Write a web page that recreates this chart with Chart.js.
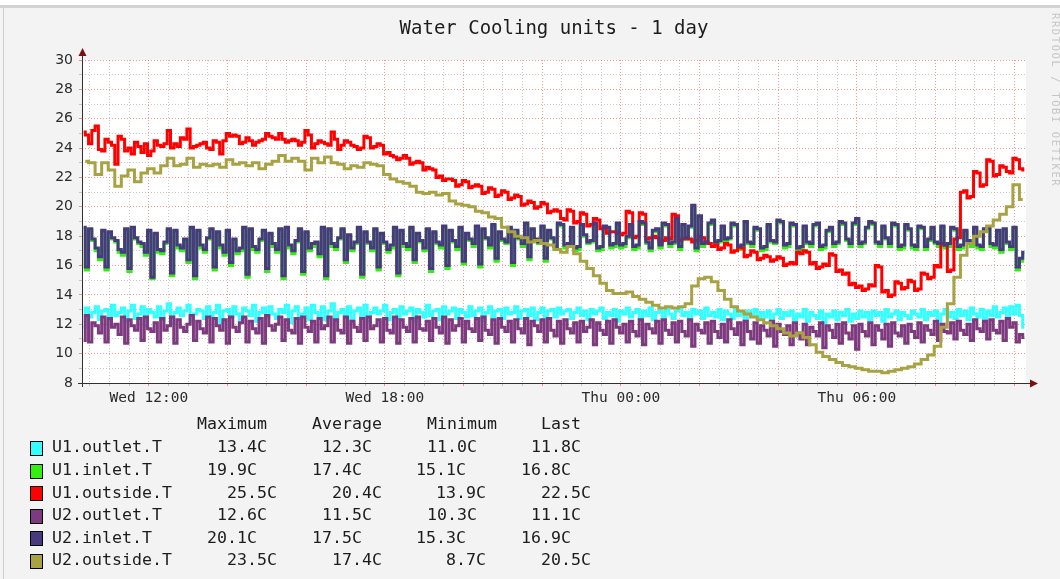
<!DOCTYPE html>
<html><head><meta charset="utf-8">
<script src="https://cdn.jsdelivr.net/npm/chart.js"></script>
<style>html,body{margin:0;padding:0;background:#f3f3f3;overflow:hidden}canvas{display:block}</style>
</head><body>
<canvas id="c" width="1060" height="579"></canvas>
<script>
const chartTitle = 'Water Cooling units - 1 day';
const watermark = 'RRDTOOL / TOBI OETIKER';
const seriesNames = ['U1.outlet.T','U1.inlet.T','U1.outside.T','U2.outlet.T','U2.inlet.T','U2.outside.T'];
const seriesColors = ['#33ffff','#33ee11','#ff0000','#7e3a7e','#473a7f','#a9a243'];
const statHeaders = ['Maximum','Average','Minimum','Last'];
const statMax  = ['13.4C','19.9C','25.5C','12.6C','20.1C','23.5C'];
const statAvg  = ['12.3C','17.4C','20.4C','11.5C','17.5C','17.4C'];
const statMin  = ['11.0C','15.1C','13.9C','10.3C','15.3C','8.7C'];
const statLast = ['11.8C','16.8C','22.5C','11.1C','16.9C','20.5C'];
const xTickHours  = [12, 18, 24, 30];
const xTickLabels = ['Wed 12:00','Wed 18:00','Thu 00:00','Thu 06:00'];
const yTickValues = [8,10,12,14,16,18,20,22,24,26,28,30];
const yTickLabels = ['8','10','12','14','16','18','20','22','24','26','28','30'];
const startHour = 10.3, endHour = 34.3;   // Wed 10:18 .. Thu 10:18

// 5-minute samples (288 per day)
const u1Outlet = [
11.8,13.1,12.5,12.8,13.2,12.3,12.9,13.0,12.2,13.3,12.6,12.8,
13.1,12.2,12.9,13.3,12.4,12.7,13.2,11.9,13.0,12.8,12.5,13.2,
12.3,12.9,13.4,12.1,12.8,13.1,12.6,12.9,13.3,12.2,12.7,13.0,
12.9,12.4,13.2,12.6,12.8,13.3,12.1,12.9,13.0,12.5,13.2,12.7,
12.3,13.1,12.9,12.6,13.3,12.2,12.8,13.1,12.5,13.2,12.7,12.4,
13.0,12.8,13.3,12.1,12.9,13.2,12.4,12.7,13.1,12.3,13.3,12.8,
12.6,13.2,12.3,12.9,13.4,12.2,12.8,13.0,12.6,13.2,12.4,12.9,
13.1,12.5,13.3,12.2,12.8,13.1,12.7,12.9,13.3,12.3,12.8,13.0,
12.4,13.2,12.7,12.9,13.1,12.2,13.0,12.8,12.5,13.3,12.6,12.9,
13.0,12.3,13.2,12.7,12.9,13.1,12.4,13.0,12.8,12.5,13.2,12.6,
12.9,13.1,12.3,12.8,13.2,12.5,12.9,13.0,12.4,13.1,12.7,12.8,
13.2,12.4,12.9,13.0,12.6,13.1,12.3,12.8,13.1,12.5,12.9,13.0,
12.5,13.1,12.7,12.9,13.0,12.4,12.8,13.1,12.6,12.9,12.3,13.0,
12.7,12.9,13.1,12.4,12.8,12.6,13.0,12.2,12.9,12.7,13.1,12.5,
12.8,13.0,12.4,12.9,12.6,13.1,12.3,12.8,12.9,12.5,13.0,12.7,
12.4,12.9,13.1,12.6,12.8,12.3,13.0,12.7,12.9,12.4,13.1,12.6,
12.8,12.5,13.0,12.3,12.9,12.7,12.4,13.0,12.6,12.8,12.2,12.9,
12.6,13.0,12.4,12.8,12.5,12.9,12.2,12.7,13.0,12.4,12.8,12.6,
12.9,12.3,12.7,12.5,13.0,12.2,12.8,12.6,12.4,12.9,12.1,12.7,
12.5,12.9,12.3,12.8,12.6,13.0,12.2,12.7,12.4,12.9,12.5,12.8,
12.3,12.9,12.6,12.8,12.2,13.0,12.5,12.7,12.9,12.3,12.8,12.6,
12.4,12.9,12.7,12.5,13.0,12.3,12.8,12.6,12.9,12.2,12.7,13.0,
12.5,12.8,12.4,13.0,12.6,12.9,12.3,13.1,12.7,12.5,13.0,12.4,
12.9,12.6,13.2,12.5,12.8,13.1,12.4,13.2,12.7,13.3,12.6,11.8];

const u1Inlet = [
18.5,15.7,18.4,17.7,17.0,16.4,18.3,15.7,18.2,17.8,17.6,16.9,
16.7,18.4,15.6,18.5,17.8,17.5,17.3,16.7,18.3,15.1,18.1,16.9,
16.8,17.5,18.4,15.3,18.3,17.2,17.0,17.7,16.2,18.5,15.1,18.3,
17.2,16.9,17.8,18.4,15.7,18.2,17.2,16.7,18.3,16.0,17.7,16.8,
17.0,18.5,15.2,18.4,17.1,16.9,17.7,18.3,15.6,18.1,17.3,16.9,
18.4,15.1,18.5,17.2,16.8,17.6,18.4,15.4,18.2,17.0,17.3,17.5,
16.6,18.5,15.1,18.4,17.3,17.1,17.8,18.4,16.2,18.0,17.0,17.5,
18.5,15.2,18.2,17.5,17.0,18.4,15.7,18.1,17.5,16.9,17.2,18.5,
15.3,18.3,17.3,17.1,18.5,16.2,18.1,17.6,17.0,18.4,15.6,18.2,
17.5,17.2,18.6,15.8,18.3,17.6,17.1,18.5,16.1,18.1,17.7,17.3,
18.6,15.9,18.4,17.8,17.2,18.7,16.3,18.2,17.7,17.5,18.5,16.0,
18.3,17.8,17.3,18.8,16.4,18.4,17.7,17.5,18.6,16.3,18.3,17.8,
17.1,18.8,18.7,17.2,17.3,18.5,17.0,17.1,18.7,18.0,17.5,17.6,
18.8,17.0,17.1,18.6,18.5,17.2,17.3,18.8,17.2,17.3,17.9,18.7,
17.1,17.2,18.9,18.8,17.5,17.0,18.3,18.4,17.2,18.8,18.7,17.3,
17.5,19.1,17.1,18.7,17.8,18.6,19.9,17.0,19.3,17.3,17.5,18.8,
19.0,17.5,17.6,18.6,17.7,17.8,18.8,18.7,17.1,17.2,18.9,17.5,
17.3,18.5,18.4,17.0,17.1,18.7,17.6,17.5,19.0,18.9,17.2,17.3,
18.8,18.7,17.0,17.1,18.6,17.5,17.3,18.7,18.8,17.1,17.2,18.3,
18.5,17.3,17.5,18.9,18.8,17.7,17.3,18.8,19.1,17.3,17.5,18.5,
18.9,18.8,17.5,17.3,18.6,17.8,17.3,18.8,18.7,17.1,17.2,18.7,
18.4,17.2,17.1,18.6,18.5,17.1,17.7,18.5,17.5,17.3,18.6,17.2,
17.3,18.5,18.4,17.1,17.2,18.3,17.6,17.3,18.5,17.2,17.1,18.4,
18.5,17.3,17.2,18.3,16.9,18.4,17.5,17.1,18.5,15.7,16.3,16.8];

const u1Outside = [
25.1,24.9,24.3,25.2,25.5,23.9,23.8,24.6,24.4,24.2,22.9,24.8,
24.6,23.8,24.0,23.6,24.4,24.1,23.7,24.3,23.5,23.8,24.5,24.2,
24.1,24.3,25.2,24.0,24.3,24.1,24.7,24.6,25.3,24.0,24.1,24.2,
24.3,24.4,24.0,23.9,24.5,24.4,23.6,24.5,25.0,24.8,24.9,24.8,
24.3,24.4,24.7,24.5,24.2,24.4,24.5,24.6,25.0,24.8,24.7,24.6,
25.0,24.6,24.4,24.5,24.6,24.5,24.2,24.4,25.2,24.9,24.0,24.3,
24.5,24.4,24.3,24.2,25.1,24.6,23.9,24.2,24.5,24.4,24.2,24.1,
23.9,24.0,24.8,24.7,24.0,24.1,24.3,24.2,23.6,23.7,23.5,23.4,
23.2,23.3,23.5,23.3,22.9,23.0,23.1,23.0,22.5,22.7,22.6,22.5,
22.0,22.1,21.8,21.9,21.9,21.8,21.4,21.5,21.8,21.7,21.3,21.4,
21.5,21.4,20.9,21.0,21.3,21.2,20.7,20.8,21.1,21.0,20.5,20.6,
20.8,20.7,20.1,20.2,20.4,20.3,19.9,20.0,20.3,20.2,19.6,19.7,
19.8,19.7,19.2,19.1,19.8,19.7,18.9,19.0,19.6,19.5,18.7,18.8,
19.2,19.1,18.5,18.6,18.2,18.3,18.3,18.2,18.1,18.2,19.7,19.6,
17.9,18.0,19.6,19.5,17.8,17.9,18.0,17.9,17.6,17.7,17.9,17.8,
19.5,19.4,17.7,17.8,17.9,17.8,17.6,17.7,18.0,17.9,17.6,17.5,
17.3,17.4,17.1,17.2,17.5,17.4,16.9,17.0,17.3,17.2,16.6,16.7,
17.0,16.9,16.4,16.5,16.7,16.6,16.3,16.4,16.6,16.5,16.0,16.1,
16.2,16.1,16.9,16.8,17.0,16.9,16.1,16.2,15.8,15.9,16.1,16.0,
16.8,16.7,15.6,15.7,15.4,15.5,14.7,14.8,14.5,14.6,14.3,14.4,
14.7,14.6,16.0,15.9,14.2,14.3,13.9,14.0,14.9,14.8,14.4,14.5,
15.0,14.9,14.3,14.4,15.5,15.4,15.1,15.2,16.0,15.9,17.5,17.4,
15.6,15.7,17.8,17.9,21.0,21.1,20.6,20.7,22.4,22.3,21.4,21.5,
23.2,23.1,22.1,22.2,22.8,22.7,22.4,22.3,23.3,23.2,22.6,22.5];

const u2Outlet = [
10.9,12.6,10.8,12.1,11.9,11.4,12.5,10.8,12.4,11.8,12.0,11.3,
12.5,10.7,12.3,11.9,11.6,12.4,10.9,12.5,11.7,11.5,12.1,10.8,
12.4,11.6,11.9,12.5,10.7,12.3,11.8,11.5,12.0,12.6,10.9,12.2,
11.7,11.4,12.5,10.8,12.4,11.9,11.6,12.3,10.7,12.5,11.8,11.5,
12.1,12.5,10.8,12.2,11.7,11.4,12.4,10.7,12.6,11.9,11.6,12.0,
12.5,10.9,12.3,11.6,11.4,12.4,10.7,12.5,11.8,11.5,12.2,10.8,
12.4,11.7,11.9,12.5,10.8,12.3,11.6,11.4,12.5,10.7,12.2,11.8,
11.5,12.4,10.9,12.5,11.7,11.9,12.3,10.8,12.4,11.6,11.4,12.5,
10.7,12.3,11.8,11.5,12.4,10.8,12.5,11.7,11.6,12.2,10.9,12.4,
11.8,11.4,12.5,10.7,12.3,11.6,11.9,12.4,10.8,12.2,11.7,11.5,
12.4,10.9,12.5,11.6,11.3,12.3,10.7,12.4,11.8,11.5,12.2,10.8,
12.3,11.7,11.4,12.4,10.6,12.2,11.9,11.5,12.3,10.8,12.4,11.6,
11.2,12.2,10.7,12.3,11.7,11.4,12.1,10.8,12.2,11.5,11.8,12.3,
10.6,12.1,11.6,11.3,12.2,10.7,12.3,11.8,11.4,12.0,10.8,12.2,
11.5,11.2,12.3,10.6,12.0,11.7,11.4,12.2,10.7,12.3,11.6,11.3,
12.1,10.8,12.2,11.5,11.2,12.3,10.5,12.0,11.6,11.4,12.1,10.7,
12.2,11.5,11.1,12.0,10.8,12.3,11.7,11.3,12.1,10.6,12.2,11.5,
11.0,12.1,10.7,11.9,11.6,11.2,12.2,10.5,12.0,11.5,11.3,11.9,
10.6,12.1,11.4,11.0,12.0,10.6,11.8,11.5,11.2,12.1,10.4,11.9,
11.6,11.1,12.0,10.7,12.1,11.4,11.0,11.9,10.3,12.0,11.5,11.2,
12.1,10.6,11.9,11.6,11.0,12.0,10.5,12.1,11.4,11.2,11.9,10.7,
12.0,11.5,11.1,12.1,10.8,11.9,11.6,11.3,12.2,10.9,12.0,11.5,
11.4,12.1,11.0,12.2,11.6,11.3,12.0,10.9,12.3,11.7,11.5,12.2,
11.0,12.3,11.6,11.4,12.2,10.9,12.4,11.8,12.1,10.8,11.3,11.1];

const u2Inlet = [
18.6,15.9,18.5,17.8,17.2,16.6,18.4,15.9,18.3,17.9,17.7,17.1,
16.9,18.5,15.8,18.6,17.9,17.6,17.5,16.9,18.4,15.2,18.2,17.1,
17.0,17.6,18.5,15.5,18.4,17.4,17.2,17.8,16.4,18.6,15.3,18.4,
17.4,17.1,17.9,18.5,15.9,18.3,17.4,16.9,18.4,16.2,17.8,17.0,
17.2,18.6,15.4,18.5,17.3,17.1,17.8,18.4,15.8,18.2,17.5,17.1,
18.5,15.3,18.6,17.4,17.0,17.7,18.5,15.6,18.3,17.2,17.5,17.6,
16.8,18.6,15.3,18.5,17.5,17.3,17.9,18.5,16.4,18.1,17.2,17.6,
18.6,15.4,18.3,17.6,17.2,18.5,15.9,18.2,17.6,17.1,17.4,18.6,
15.5,18.4,17.5,17.3,18.6,16.4,18.2,17.7,17.2,18.5,15.8,18.3,
17.6,17.4,18.7,16.0,18.4,17.7,17.3,18.6,16.3,18.2,17.8,17.5,
18.7,16.1,18.5,17.9,17.4,18.8,16.5,18.3,17.8,17.6,18.6,16.2,
18.4,17.9,17.5,18.9,16.6,18.5,17.8,17.6,18.7,16.5,18.4,17.9,
17.3,18.9,18.8,17.4,17.5,18.6,17.2,17.3,18.8,18.1,17.6,17.7,
18.9,17.2,17.3,18.7,18.6,17.4,17.5,18.9,17.4,17.5,18.0,18.8,
17.3,17.4,19.0,18.9,17.6,17.2,18.4,18.5,17.4,18.9,18.8,17.5,
17.6,19.2,17.3,18.8,17.9,18.7,20.1,17.2,19.4,17.5,17.6,18.9,
19.1,17.6,17.7,18.7,17.8,17.9,18.9,18.8,17.3,17.4,19.0,17.6,
17.5,18.6,18.5,17.2,17.3,18.8,17.7,17.6,19.1,19.0,17.4,17.5,
18.9,18.8,17.2,17.3,18.7,17.6,17.5,18.8,18.9,17.3,17.4,18.4,
18.6,17.5,17.6,19.0,18.9,17.8,17.5,18.9,19.2,17.5,17.6,18.6,
19.0,18.9,17.6,17.5,18.7,17.9,17.5,18.9,18.8,17.3,17.4,18.8,
18.5,17.4,17.3,18.7,18.6,17.3,17.8,18.6,17.6,17.5,18.7,17.4,
17.5,18.6,18.5,17.3,17.4,18.4,17.7,17.5,18.6,17.4,17.3,18.5,
18.6,17.5,17.4,18.4,17.1,18.5,17.6,17.3,18.6,15.9,16.5,16.9];

// 10-minute samples (144 per day)
const u2Outside = [23.1,23.0,22.2,23.0,22.5,21.4,22.1,22.5,21.7,22.3,22.6,22.3,22.8,23.3,22.8,22.9,23.3,22.7,22.9,22.8,22.9,22.7,23.2,22.9,23.0,22.8,23.0,22.6,22.9,23.1,23.5,23.1,23.3,23.1,22.5,23.3,23.0,
23.4,23.0,22.9,22.6,22.8,22.7,23.0,22.9,22.8,22.2,21.9,21.7,21.6,21.4,21.0,20.9,21.0,20.8,20.9,20.4,20.2,20.1,20.0,19.7,19.6,19.3,19.2,18.6,18.3,18.0,17.9,17.6,17.7,17.5,17.4,17.1,
16.9,17.3,16.8,16.3,15.8,15.3,14.8,14.3,14.1,14.1,14.2,13.9,13.7,13.5,13.3,13.1,13.2,13.1,13.2,13.4,14.6,15.1,15.2,14.9,14.3,13.7,13.2,12.9,12.7,12.5,12.3,12.1,11.9,11.7,11.4,11.2,
11.4,11.1,10.6,10.1,9.8,9.6,9.4,9.2,9.1,9.0,8.9,8.8,8.8,8.7,8.8,8.9,9.0,9.1,9.3,9.6,9.9,10.5,11.8,13.4,15.2,16.7,17.5,18.0,18.3,18.7,19.1,19.5,20.0,21.5,20.5];

const seriesValues = [u1Outlet, u1Inlet, u1Outside, u2Outlet, u2Inlet, u2Outside];

const MAJOR = 'rgba(240,60,60,0.55)';
const MINOR = 'rgba(150,150,150,0.5)';
const MONO = "'DejaVu Sans Mono', monospace";

const xGridHours = [];
for (let h = 10.5; h <= 34.0001; h += 0.5) xGridHours.push(h);
const yGridValues = [];
for (let v = 8; v <= 30; v++) yGridValues.push(v);

const rrdDecor = {
  id: 'rrdDecor',
  beforeDraw(chart) {
    const {ctx, chartArea: a, width, height} = chart;
    ctx.save();
    ctx.fillStyle = '#f3f3f3'; ctx.fillRect(0, 0, width, height);
    ctx.fillStyle = '#ffffff'; ctx.fillRect(0, 0, width, 5);
    ctx.fillStyle = '#d3d3d3'; ctx.fillRect(0, 5, width, 3);
    ctx.fillStyle = '#cfcfcf'; ctx.fillRect(3, 8, 1, height - 8);
    ctx.fillStyle = '#ffffff'; ctx.fillRect(a.left, a.top, a.right - a.left, a.bottom - a.top);
    ctx.restore();
  },
  afterDraw(chart) {
    const {ctx, chartArea: a} = chart;
    ctx.save();
    ctx.strokeStyle = '#303030'; ctx.lineWidth = 1;
    ctx.beginPath();
    ctx.moveTo(a.left + 0.5, a.bottom + 4); ctx.lineTo(a.left + 0.5, a.top - 6);
    ctx.moveTo(a.left - 4, a.bottom + 0.5); ctx.lineTo(a.right + 6, a.bottom + 0.5);
    ctx.stroke();
    ctx.fillStyle = '#7f1010';
    ctx.beginPath();
    ctx.moveTo(a.left + 0.5 - 4, a.top - 4); ctx.lineTo(a.left + 0.5 + 4, a.top - 4); ctx.lineTo(a.left + 0.5, a.top - 12); ctx.closePath(); ctx.fill();
    ctx.beginPath();
    ctx.moveTo(a.right + 4, a.bottom + 0.5 - 4); ctx.lineTo(a.right + 4, a.bottom + 0.5 + 4); ctx.lineTo(a.right + 12, a.bottom + 0.5); ctx.closePath(); ctx.fill();
    ctx.fillStyle = '#1c1c1c';
    ctx.font = '19px ' + MONO;
    ctx.textAlign = 'center'; ctx.textBaseline = 'alphabetic';
    ctx.fillText(chartTitle, (a.left + a.right) / 2, 34);
    ctx.save();
    ctx.translate(1052, 13); ctx.rotate(Math.PI / 2);
    ctx.font = '10.5px ' + MONO;
    try { ctx.letterSpacing = '1.6px'; } catch (e) {}
    ctx.fillStyle = '#c6c6c6'; ctx.textAlign = 'left'; ctx.textBaseline = 'alphabetic';
    ctx.fillText(watermark, 0, 0);
    ctx.restore();
    ctx.font = '16.6px ' + MONO;
    ctx.fillStyle = '#1c1c1c';
    ctx.textBaseline = 'middle';
    ctx.textAlign = 'left';
    const headX = [197, 312, 427, 541];
    statHeaders.forEach((h, j) => ctx.fillText(h, headX[j], 425));
    const rights = [[267, 372, 477, 581], [257, 362, 466, 571], [277, 382, 486, 591]];
    seriesNames.forEach((name, k) => {
      const y = 448 + k * 22.6;
      ctx.fillStyle = seriesColors[k];
      ctx.fillRect(30, Math.round(y) - 7, 12, 14);
      ctx.strokeStyle = '#000000'; ctx.lineWidth = 1;
      ctx.strokeRect(30.5, Math.round(y) - 6.5, 12, 14);
      ctx.fillStyle = '#1c1c1c';
      ctx.textAlign = 'left';
      ctx.fillText(name, 52, y);
      ctx.textAlign = 'right';
      const vals = [statMax[k], statAvg[k], statMin[k], statLast[k]];
      vals.forEach((v, j) => ctx.fillText(v, rights[k % 3][j], y));
    });
    ctx.restore();
  }
};

const datasets = seriesNames.map((name, k) => {
  const vals = seriesValues[k];
  const stepH = (endHour - startHour) / vals.length;
  return {
    label: name,
    data: vals.map((v, i) => ({x: startHour + (i + 0.5) * stepH, y: v})),
    borderColor: seriesColors[k],
    backgroundColor: seriesColors[k],
    borderWidth: 3,
    pointRadius: 0,
    stepped: 'middle',
    fill: false,
    borderJoinStyle: 'miter',
    order: seriesNames.length - k
  };
});

new Chart(document.getElementById('c'), {
  type: 'line',
  data: {datasets},
  plugins: [rrdDecor],
  options: {
    responsive: false,
    animation: false,
    devicePixelRatio: 1,
    layout: {padding: {left: 0, right: 34, top: 60, bottom: 166}},
    plugins: {legend: {display: false}, title: {display: false}, tooltip: {enabled: false}},
    scales: {
      x: {
        type: 'linear', min: startHour, max: endHour,
        afterBuildTicks: s => { s.ticks = xGridHours.map(v => ({value: v})); },
        afterFit: s => { s.height = 30; },
        grid: {
          color: c => (c.tick && Math.abs(c.tick.value % 2) < 1e-6) ? MAJOR : MINOR,
          lineWidth: 1, drawTicks: true, tickLength: 3
        },
        border: {display: false, dash: [1, 2]},
        ticks: {
          autoSkip: false, maxRotation: 0, minRotation: 0, padding: 4,
          color: '#2a2a2a', font: {family: MONO, size: 14.5},
          callback: v => { const k = xTickHours.indexOf(v); return k >= 0 ? xTickLabels[k] : ''; }
        }
      },
      y: {
        type: 'linear', min: 8, max: 30,
        afterBuildTicks: s => { s.ticks = yGridValues.map(v => ({value: v})); },
        afterFit: s => { s.width = 82; },
        grid: {
          color: c => (c.tick && c.tick.value % 2 === 0) ? MAJOR : MINOR,
          lineWidth: 1, drawTicks: true, tickLength: 3
        },
        border: {display: false, dash: [1, 2]},
        ticks: {
          autoSkip: false, padding: 6,
          color: '#2a2a2a', font: {family: "'DejaVu Sans', sans-serif", size: 14},
          callback: v => { const k = yTickValues.indexOf(v); return k >= 0 ? yTickLabels[k] : ''; }
        }
      }
    }
  }
});
</script>
</body></html>
